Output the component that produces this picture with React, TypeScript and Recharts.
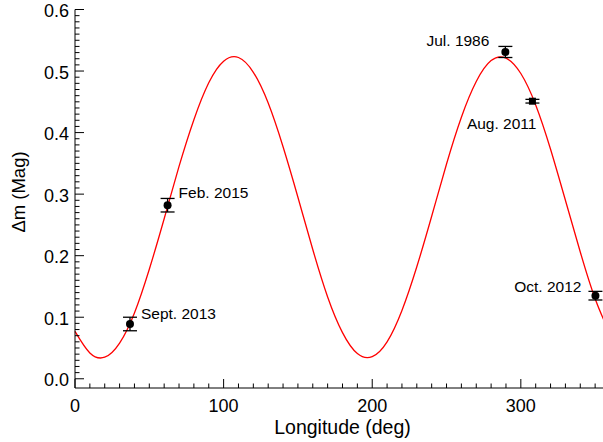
import React from 'react';
import { ComposedChart, Line, Scatter, ErrorBar, XAxis, YAxis, Label } from 'recharts';

// fitted lightcurve, every 10 deg
const curveLon = [0, 10, 20, 30, 40, 50, 60, 70, 80, 90, 100, 110, 120, 130, 140, 150, 160, 170, 180,
  190, 200, 210, 220, 230, 240, 250, 260, 270, 280, 290, 300, 310, 320, 330, 340, 350, 360];
const curveMag = [0.077, 0.042, 0.035, 0.058, 0.107, 0.178, 0.260, 0.345, 0.421, 0.481, 0.516, 0.522, 0.498,
  0.448, 0.377, 0.295, 0.210, 0.133, 0.075, 0.041, 0.036, 0.060, 0.111, 0.182, 0.264, 0.349, 0.425, 0.483,
  0.517, 0.521, 0.496, 0.445, 0.373, 0.290, 0.206, 0.130, 0.073];

// observations
const obsNames = ['Sept. 2013', 'Feb. 2015', 'Jul. 1986', 'Aug. 2011', 'Oct. 2012'];
const obsLon = [37.0, 62.3, 289.6, 307.8, 350.2];
const obsMag = [0.089, 0.282, 0.531, 0.451, 0.135];
const obsErr = [0.011, 0.011, 0.009, 0.003, 0.007];

const xMajor = [0, 100, 200, 300];
const xTicks = Array.from({ length: 37 }, (_, i) => i * 10);
const yMajor = [0, 0.1, 0.2, 0.3, 0.4, 0.5, 0.6];
const yTicks = Array.from({ length: 61 }, (_, i) => i / 100);

const curve = curveLon.map((x, i) => ({ x, y: curveMag[i] }));
const obs = obsLon.map((x, i) => ({ x, y: obsMag[i], err: obsErr[i], name: obsNames[i] }));

const FONT = '"Liberation Sans", Arial, Helvetica, sans-serif';

const labelStyle: Record<string, { dx: number; dy: number; anchor: string; square?: boolean }> = {
  'Sept. 2013': { dx: 11, dy: -5, anchor: 'start' },
  'Feb. 2015': { dx: 11, dy: -7, anchor: 'start' },
  'Jul. 1986': { dx: -16, dy: -6, anchor: 'end' },
  'Aug. 2011': { dx: 4, dy: 28, anchor: 'end', square: true },
  'Oct. 2012': { dx: -14, dy: -4, anchor: 'end' },
};

const isMajorX = (v: number) => xMajor.includes(v);
const isMajorY = (v: number) => yMajor.some((m) => Math.abs(m - v) < 1e-6);

const BottomTick = (props: any) => {
  const { x, y, payload } = props;
  const major = isMajorX(payload.value);
  return (
    <g>
      <line x1={x} y1={y} x2={x} y2={y - (major ? 9 : 4.5)} stroke="#000" />
      {major && (
        <text x={x} y={y + 23.5} textAnchor="middle" fontSize={18} fontFamily={FONT} fill="#000">
          {payload.value}
        </text>
      )}
    </g>
  );
};

const TopTick = (props: any) => {
  const { x, y, payload } = props;
  const major = isMajorX(payload.value);
  return <line x1={x} y1={y} x2={x} y2={y + (major ? 9 : 4.5)} stroke="#000" />;
};

const LeftTick = (props: any) => {
  const { x, y, payload } = props;
  const major = isMajorY(payload.value);
  return (
    <g>
      <line x1={x} y1={y} x2={x + (major ? 9 : 4.5)} y2={y} stroke="#000" />
      {major && (
        <text x={x - 6} y={y + 7.5} textAnchor="end" fontSize={18} fontFamily={FONT} fill="#000">
          {payload.value.toFixed(1)}
        </text>
      )}
    </g>
  );
};

const RightTick = (props: any) => {
  const { x, y, payload } = props;
  const major = isMajorY(payload.value);
  return <line x1={x} y1={y} x2={x - (major ? 9 : 4.5)} y2={y} stroke="#000" />;
};

const ObsMarker = (props: any) => {
  const { cx, cy, payload } = props;
  const s = labelStyle[payload.name];
  return (
    <g>
      {s.square ? (
        <rect x={cx - 3.5} y={cy - 3.5} width={7} height={7} fill="#000" />
      ) : (
        <circle cx={cx} cy={cy} r={4} fill="#000" />
      )}
      <text x={cx + s.dx} y={cy + s.dy} textAnchor={s.anchor as any} fontSize={15.5} fontFamily={FONT} fill="#000">
        {payload.name}
      </text>
    </g>
  );
};

export default function App() {
  return (
    <div style={{ position: 'fixed', left: 0, top: 0, width: 603, height: 442, overflow: 'hidden', background: '#fff' }}>
      <div style={{ position: 'absolute', left: 8, top: 0 }}>
        <ComposedChart width={605} height={442} margin={{ top: 9.5, right: 3, left: 0, bottom: 0 }}>
          <XAxis
            xAxisId="b"
            dataKey="x"
            type="number"
            domain={[0, 360]}
            ticks={xTicks}
            interval={0}
            tick={<BottomTick />}
            tickLine={false}
            tickSize={0}
            tickMargin={0}
            axisLine={{ stroke: '#000' }}
            height={54}
          >
            <Label
              content={() => (
                <text x={334.5} y={434} textAnchor="middle" fontSize={19.5} fontFamily={FONT} fill="#000">
                  Longitude (deg)
                </text>
              )}
            />
          </XAxis>
          <XAxis
            xAxisId="t"
            orientation="top"
            type="number"
            domain={[0, 360]}
            ticks={xTicks}
            interval={0}
            tick={<TopTick />}
            tickLine={false}
            tickSize={0}
            tickMargin={0}
            axisLine={{ stroke: '#000' }}
            height={0}
          />
          <YAxis
            yAxisId="l"
            type="number"
            domain={[-0.015, 0.6]}
            ticks={yTicks}
            interval={0}
            tick={<LeftTick />}
            tickLine={false}
            tickSize={0}
            tickMargin={0}
            axisLine={{ stroke: '#000' }}
            width={67}
          >
            <Label
              content={() => (
                <text
                  transform="translate(17,192) rotate(-90)"
                  textAnchor="middle"
                  fontSize={18.5}
                  fontFamily={FONT}
                  fill="#000"
                >
                  Δm (Mag)
                </text>
              )}
            />
          </YAxis>
          <YAxis
            yAxisId="r"
            orientation="right"
            type="number"
            domain={[-0.015, 0.6]}
            ticks={yTicks}
            interval={0}
            tick={<RightTick />}
            tickLine={false}
            tickSize={0}
            tickMargin={0}
            axisLine={{ stroke: '#000' }}
            width={0}
          />
          <Line
            xAxisId="b"
            yAxisId="l"
            data={curve}
            dataKey="y"
            type="natural"
            stroke="#ff0000"
            strokeWidth={1.3}
            dot={false}
            isAnimationActive={false}
          />
          <Scatter
            xAxisId="b"
            yAxisId="l"
            data={obs}
            dataKey="y"
            shape={<ObsMarker />}
            isAnimationActive={false}
          >
            <ErrorBar dataKey="err" direction="y" width={7} stroke="#000" strokeWidth={1.3} />
          </Scatter>
        </ComposedChart>
      </div>
    </div>
  );
}
